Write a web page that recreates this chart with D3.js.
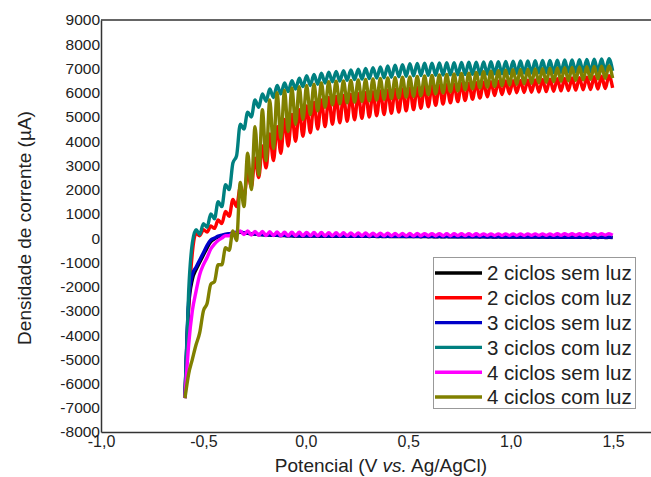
<!DOCTYPE html>
<html>
<head>
<meta charset="utf-8">
<script src="https://cdn.jsdelivr.net/npm/d3@7"></script>
<style>
    html, body { margin: 0; padding: 0; background: #fff; }
    text { font-family: "Liberation Sans", Arial, sans-serif; fill: #222; }
</style>
</head>
<body>
<div id="grafico"></div>
<script>
// Potencial: one reading every half chopping period, from -0,59 V
const potencialInicial = -0.59
const passoPotencial = 0.018

const xTicks = [-1.0, -0.5, 0.0, 0.5, 1.0, 1.5]
const yTicks = [-8000, -7000, -6000, -5000, -4000, -3000, -2000, -1000, 0,
    1000, 2000, 3000, 4000, 5000, 6000, 7000, 8000, 9000]

const nomes = ["2 ciclos sem luz", "2 ciclos com luz", "3 ciclos sem luz",
    "3 ciclos com luz", "4 ciclos sem luz", "4 ciclos com luz"]
const cores = ["#000000", "#ff0000", "#0000c8", "#008080", "#ff00ff", "#808000"]

// corrente (uA)
const ciclos2SemLuz = [
    -6600, -2800, -1700, -1300, -1000, -700, -400, -150, -30, 50,
    100, 140, 170, 200, 220, 240, 210, 200, 170, 165,
    145, 140, 125, 125, 115, 112, 105, 102, 95, 92,
    88, 86, 80, 85, 79, 84, 78, 82, 76, 81,
    75, 80, 74, 78, 72, 77, 71, 76, 70, 74,
    68, 73, 67, 72, 66, 70, 64, 69, 63, 68,
    62, 66, 60, 65, 59, 64, 58, 62, 56, 61,
    55, 60, 54, 58, 52, 57, 51, 56, 50, 54,
    48, 53, 47, 52, 46, 50, 44, 49, 43, 48,
    42, 46, 40, 45, 39, 44, 38, 42, 36, 41,
    35, 40, 34, 38, 32, 37, 31, 36, 30, 34,
    28, 33, 27, 32, 26, 30, 25]
const ciclos2ComLuz = [
    -6600, -2800, -600, 200, 100, 350, 250, 500, 400, 750,
    600, 1100, 900, 1600, 1300, 2100, 1700, 2700, 2100, 3300,
    2500, 3800, 2900, 4300, 3200, 4600, 3500, 4900, 3800, 5100,
    4000, 5300, 4200, 5450, 4350, 5600, 4500, 5700, 4600, 5800,
    4700, 5850, 4760, 5890, 4820, 5930, 4880, 5960, 4940, 6000,
    5000, 6030, 5050, 6070, 5100, 6100, 5150, 6130, 5200, 6160,
    5250, 6200, 5300, 6230, 5360, 6260, 5420, 6290, 5480, 6310,
    5530, 6330, 5580, 6350, 5630, 6370, 5680, 6390, 5730, 6410,
    5780, 6430, 5830, 6450, 5880, 6470, 5920, 6490, 5960, 6500,
    6000, 6510, 6010, 6520, 6020, 6530, 6030, 6545, 6045, 6560,
    6060, 6575, 6075, 6590, 6090, 6605, 6105, 6620, 6120, 6640,
    6135, 6660, 6150, 6680, 6170, 6700, 6200]
const ciclos3SemLuz = [
    -6600, -2600, -1500, -1200, -900, -600, -300, -80, 0, 80,
    120, 160, 180, 220, 240, 260, 220, 220, 180, 180,
    150, 150, 130, 135, 120, 125, 110, 115, 100, 105,
    95, 100, 90, 98, 88, 96, 86, 95, 85, 94,
    84, 92, 82, 90, 80, 89, 79, 88, 78, 86,
    76, 85, 75, 84, 74, 82, 72, 80, 70, 79,
    69, 78, 68, 76, 66, 75, 65, 74, 64, 72,
    62, 70, 60, 69, 59, 68, 58, 66, 56, 65,
    55, 64, 54, 62, 52, 60, 50, 59, 49, 58,
    48, 56, 46, 55, 45, 54, 44, 52, 42, 50,
    40, 49, 39, 48, 38, 46, 36, 45, 35, 44,
    34, 42, 32, 40, 30, 40, 30]
const ciclos3ComLuz = [
    -6600, -2200, -200, 350, 150, 600, 450, 1000, 800, 1500,
    1300, 2200, 2000, 3100, 3400, 4700, 4500, 5200, 5000, 5700,
    5400, 5950, 5650, 6150, 5800, 6300, 5950, 6400, 6050, 6500,
    6150, 6600, 6250, 6700, 6300, 6750, 6350, 6800, 6400, 6850,
    6450, 6880, 6480, 6910, 6510, 6940, 6540, 6970, 6560, 7000,
    6580, 7030, 6600, 7060, 6620, 7100, 6640, 7130, 6660, 7160,
    6680, 7200, 6700, 7210, 6710, 7215, 6715, 7220, 6720, 7230,
    6730, 7235, 6735, 7240, 6740, 7250, 6750, 7255, 6755, 7260,
    6760, 7270, 6770, 7275, 6775, 7280, 6780, 7290, 6790, 7300,
    6800, 7310, 6810, 7315, 6815, 7320, 6820, 7330, 6830, 7335,
    6835, 7340, 6840, 7350, 6850, 7355, 6855, 7360, 6860, 7370,
    6870, 7380, 6880, 7390, 6890, 7400, 6900]
const ciclos4SemLuz = [
    -6600, -4400, -3000, -2200, -1500, -1100, -800, -450, -250, -100,
    0, 100, 100, 200, 200, 300, 150, 300, 130, 280,
    120, 270, 110, 260, 110, 250, 100, 245, 100, 240,
    100, 240, 95, 235, 95, 230, 95, 230, 95, 225,
    95, 220, 95, 220, 95, 215, 95, 210, 95, 210,
    95, 205, 95, 200, 95, 200, 95, 195, 95, 195,
    95, 190, 95, 190, 100, 185, 100, 185, 100, 185,
    100, 180, 100, 180, 105, 180, 105, 180, 105, 180,
    105, 175, 105, 175, 110, 175, 110, 175, 110, 175,
    110, 175, 110, 175, 115, 175, 115, 175, 115, 175,
    115, 180, 115, 180, 120, 180, 120, 180, 120, 180,
    120, 185, 120, 185, 125, 185, 125]
const ciclos4ComLuz = [
    -6600, -5600, -5000, -4400, -3900, -3000, -2700, -1900, -1800, -1100,
    -1100, -400, -500, 300, -100, 2300, 1300, 3500, 2000, 4600,
    2600, 5300, 3200, 5700, 3700, 6000, 4100, 6100, 4400, 6200,
    4700, 6250, 4900, 6300, 5100, 6350, 5250, 6400, 5400, 6450,
    5500, 6470, 5540, 6490, 5580, 6510, 5610, 6530, 5640, 6550,
    5670, 6570, 5700, 6590, 5730, 6610, 5760, 6620, 5790, 6635,
    5820, 6650, 5850, 6670, 5880, 6690, 5920, 6710, 5960, 6730,
    6000, 6750, 6040, 6770, 6080, 6790, 6120, 6810, 6160, 6840,
    6200, 6870, 6230, 6890, 6260, 6910, 6290, 6930, 6320, 6950,
    6350, 6960, 6370, 6970, 6390, 6980, 6410, 6995, 6430, 7010,
    6450, 7020, 6470, 7030, 6490, 7045, 6510, 7060, 6530, 7070,
    6550, 7080, 6570, 7090, 6590, 7100, 6600]

const correntes = [ciclos2SemLuz, ciclos2ComLuz, ciclos3SemLuz,
    ciclos3ComLuz, ciclos4SemLuz, ciclos4ComLuz]

const _WIDTH = 651
const _HEIGHT = 477

const svg = d3
    .select("#grafico")
    .append("svg")
    .attr("width", _WIDTH)
    .attr("height", _HEIGHT)

svg.append("rect").attr("width", _WIDTH).attr("height", _HEIGHT).attr("fill", "#fff")

const xScale = d3.scaleLinear().domain([-1.0, 1.7]).range([101, 654])
const yScale = d3.scaleLinear().domain([-8000, 9000]).range([432, 20])

//  Curves
// ===================================
const line = d3
    .line()
    .x((d, i) => xScale(potencialInicial + i * passoPotencial))
    .y(d => yScale(d))
    .curve(d3.curveMonotoneX)

svg
    .append("g")
    .attr("class", "chart")
    .selectAll("path")
    .data(correntes)
    .join("path")
    .attr("fill", "none")
    .attr("stroke", (d, i) => cores[i])
    .attr("stroke-width", 3.4)
    .attr("stroke-linejoin", "round")
    .attr("d", line)

//  Axis & frame
// ===================================
const xAxis = svg
    .append("g")
    .attr("class", "x-axis")
    .attr("transform", `translate(0,${yScale(-8000)})`)
    .call(d3.axisBottom(xScale)
        .tickValues(xTicks)
        .tickSize(0)
        .tickSizeOuter(0)
        .tickPadding(4)
        .tickFormat(d => d.toFixed(1).replace(".", ",")))
xAxis.attr("font-size", "16").attr("font-family", null)

const yAxis = svg
    .append("g")
    .attr("class", "y-axis")
    .attr("transform", `translate(${xScale(-1.0)},0)`)
    .call(d3.axisLeft(yScale)
        .tickValues(yTicks)
        .tickSize(0)
        .tickSizeOuter(0)
        .tickPadding(1)
        .tickFormat(d => String(d)))
yAxis.attr("font-size", "15.5").attr("font-family", null)

svg.selectAll(".x-axis path, .y-axis path")
    .attr("stroke", "#333")
    .attr("stroke-width", 1.5)

svg
    .append("path")
    .attr("fill", "none")
    .attr("stroke", "#333")
    .attr("stroke-width", 1.5)
    .attr("d", `M${xScale(-1.0)},${yScale(9000)}H${xScale(1.7)}V${yScale(-8000)}`)

// Titles
// ===================================
const xTitle = svg
    .append("text")
    .attr("x", 381)
    .attr("y", 472)
    .attr("text-anchor", "middle")
    .attr("font-size", 19)
xTitle.append("tspan").text("Potencial (V ")
xTitle.append("tspan").attr("font-style", "italic").text("vs.")
xTitle.append("tspan").text(" Ag/AgCl)")

svg
    .append("text")
    .attr("transform", "translate(31,228)rotate(-90)")
    .attr("text-anchor", "middle")
    .attr("font-size", 19)
    .text("Densidade de corrente (µA)")

// Legend
// ===================================
const legend = svg.append("g").attr("class", "legend")
legend
    .append("rect")
    .attr("x", 433.5)
    .attr("y", 257.5)
    .attr("width", 202)
    .attr("height", 151)
    .attr("fill", "#fff")
    .attr("stroke", "#999")

const items = legend
    .selectAll("g.item")
    .data(nomes)
    .join("g")
    .attr("class", "item")
    .attr("transform", (d, i) => `translate(0,${273 + i * 24.8})`)
items
    .append("line")
    .attr("x1", 435)
    .attr("x2", 482)
    .attr("stroke", (d, i) => cores[i])
    .attr("stroke-width", 3.4)
items
    .append("text")
    .attr("x", 487)
    .attr("dy", "0.36em")
    .attr("font-size", 20.5)
    .text(d => d)
</script>
</body>
</html>
